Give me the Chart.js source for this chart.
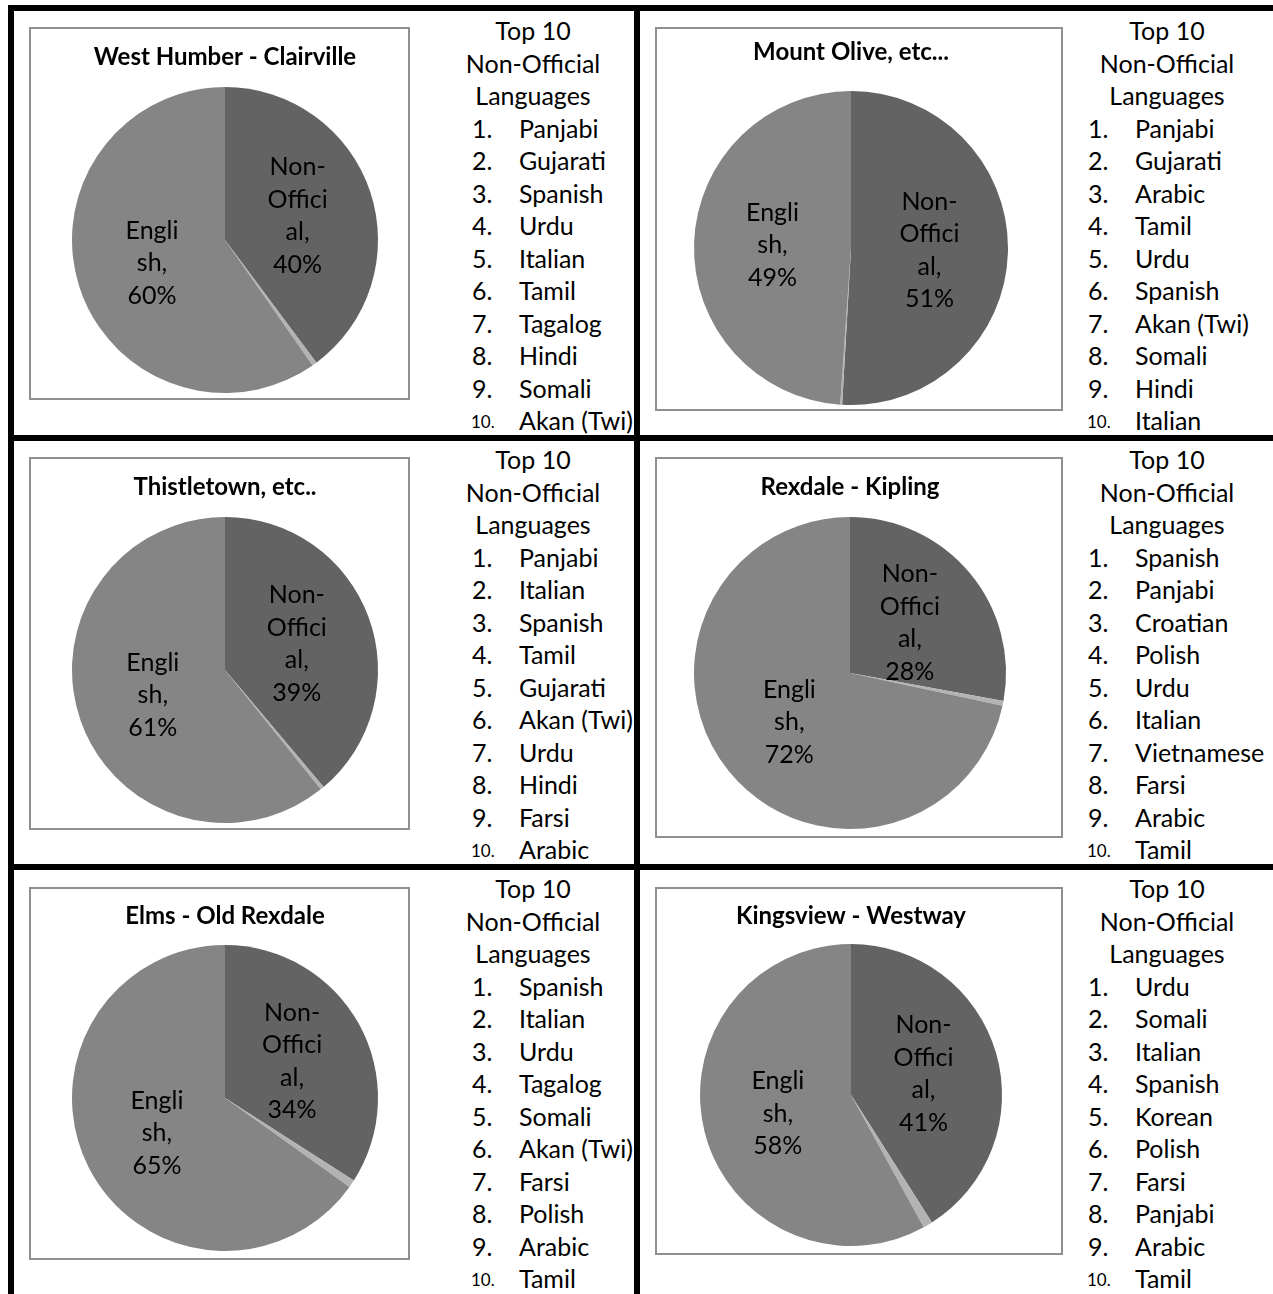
<!DOCTYPE html>
<html>
<head>
<title>Top 10 Non-Official Languages</title>
<style>
  body { margin: 0; background: #fff; font-family: Lato, 'Liberation Sans', sans-serif; }
  #page { position: relative; width: 1273px; height: 1294px; overflow: hidden; }
  .rule { position: absolute; background: #000; }
  .box { position: absolute; border: 2px solid #8f8f8f; background: #fff; }
  .box canvas { display: block; }
  .txt { position: absolute; white-space: nowrap; font-size: 25px; line-height: 30px; color: #000; }
  .small { font-size: 17px; }
</style>
</head>
<body>
<div id="page">
  <div class="rule" style="left:8px;top:5px;width:6px;height:1289px"></div>
  <div class="rule" style="left:8px;top:5px;width:1265px;height:6px"></div>
  <div class="rule" style="left:634px;top:5px;width:6px;height:1289px"></div>
  <div class="rule" style="left:8px;top:435px;width:1265px;height:6px"></div>
  <div class="rule" style="left:8px;top:864px;width:1265px;height:6px"></div>
</div>

<script src="https://cdn.jsdelivr.net/npm/chart.js"></script>
<script type="text/javascript">
  const titles = ['West Humber - Clairville', 'Mount Olive, etc...', 'Thistletown, etc..',
                  'Rexdale - Kipling', 'Elms - Old Rexdale', 'Kingsview - Westway'];
  const categories = ['Non-Official', 'French', 'English'];
  const nonOfficial = [40, 51, 39, 28, 34, 41];
  const french = [0.5, 0.2, 0.4, 0.5, 0.8, 1.0];
  const english = [60, 49, 61, 72, 65, 58];
  // how Excel wrapped the category names inside the slices
  const labelLines = [['Non-', 'Offici', 'al,'], [], ['Engli', 'sh,']];
  const listHeader = ['Top 10', 'Non-Official', 'Languages'];
  const topLanguages = [
    ['Panjabi', 'Gujarati', 'Spanish', 'Urdu', 'Italian', 'Tamil', 'Tagalog', 'Hindi', 'Somali', 'Akan (Twi)'],
    ['Panjabi', 'Gujarati', 'Arabic', 'Tamil', 'Urdu', 'Spanish', 'Akan (Twi)', 'Somali', 'Hindi', 'Italian'],
    ['Panjabi', 'Italian', 'Spanish', 'Tamil', 'Gujarati', 'Akan (Twi)', 'Urdu', 'Hindi', 'Farsi', 'Arabic'],
    ['Spanish', 'Panjabi', 'Croatian', 'Polish', 'Urdu', 'Italian', 'Vietnamese', 'Farsi', 'Arabic', 'Tamil'],
    ['Spanish', 'Italian', 'Urdu', 'Tagalog', 'Somali', 'Akan (Twi)', 'Farsi', 'Polish', 'Arabic', 'Tamil'],
    ['Urdu', 'Somali', 'Italian', 'Spanish', 'Korean', 'Polish', 'Farsi', 'Panjabi', 'Arabic', 'Tamil']
  ];
  const sliceColors = ['#636363', '#b3b3b3', '#858585'];

  // page geometry: box [left, top, right, bottom], pie [cx, cy, r], list [centerX, numX, nameX, firstY]
  const panels = [
    { box: [29, 27, 410, 400],    pie: [225, 240, 153],  titleY: 57,  list: [533, 472, 519, 30] },
    { box: [655, 27, 1063, 411],  pie: [851, 248, 157],  titleY: 52,  list: [1167, 1088, 1135, 30] },
    { box: [29, 457, 410, 830],   pie: [225, 670, 153],  titleY: 487, list: [533, 472, 519, 459] },
    { box: [655, 457, 1063, 838], pie: [850, 673, 156],  titleY: 487, list: [1167, 1088, 1135, 459] },
    { box: [29, 887, 410, 1260],  pie: [225, 1098, 153], titleY: 916, list: [533, 472, 519, 888] },
    { box: [655, 887, 1063, 1255], pie: [851, 1095, 151], titleY: 916, list: [1167, 1088, 1135, 888] }
  ];

  Chart.defaults.font.family = 'Lato';
  const page = document.getElementById('page');

  const sliceLabels = {
    id: 'sliceLabels',
    afterDatasetsDraw(chart) {
      const ctx = chart.ctx;
      const values = chart.data.datasets[0].data;
      ctx.save();
      ctx.font = '25px Lato';
      ctx.fillStyle = '#000';
      ctx.textAlign = 'center';
      ctx.textBaseline = 'middle';
      chart.getDatasetMeta(0).data.forEach((arc, i) => {
        if (!labelLines[i].length) return;
        const lines = labelLines[i].concat(Math.round(values[i]) + '%');
        const p = arc.getCenterPoint();
        lines.forEach((t, k) => ctx.fillText(t, p.x, p.y + (k - (lines.length - 1) / 2) * 32.5));
      });
      ctx.restore();
    }
  };

  function addText(text, x, y, align, cls) {
    const el = document.createElement('div');
    el.className = 'txt' + (cls ? ' ' + cls : '');
    el.textContent = text;
    el.style.left = x + 'px';
    el.style.top = (y - 15) + 'px';
    if (align === 'center') el.style.transform = 'translateX(-50%)';
    page.appendChild(el);
  }

  panels.forEach((p, n) => {
    const [l, t, r, b] = p.box;
    const box = document.createElement('div');
    box.className = 'box';
    box.style.left = l + 'px';
    box.style.top = t + 'px';
    const w = r - l - 4, h = b - t - 4;
    const ox = l + 2, oy = t + 2;
    box.style.width = w + 'px';
    box.style.height = h + 'px';
    const canvas = document.createElement('canvas');
    canvas.width = w;
    canvas.height = h;
    box.appendChild(canvas);
    page.appendChild(box);

    const [cx, cy, rad] = p.pie;
    const titleLine = 28.8;
    const titleTop = p.titleY - oy - titleLine / 2;
    new Chart(canvas, {
      type: 'pie',
      data: {
        labels: categories,
        datasets: [{
          data: [nonOfficial[n], french[n], english[n]],
          backgroundColor: sliceColors,
          borderWidth: 0
        }]
      },
      options: {
        responsive: false,
        animation: false,
        layout: {
          padding: { left: cx - rad - ox, right: w - (cx + rad - ox), top: 0, bottom: h - (cy + rad - oy) }
        },
        plugins: {
          legend: { display: false },
          tooltip: { enabled: false },
          title: {
            display: true,
            text: titles[n],
            color: '#000',
            font: { size: 24, weight: 'bold', lineHeight: 1.2 },
            padding: { top: titleTop, bottom: (cy - rad - oy) - (titleTop + titleLine) }
          }
        }
      },
      plugins: [sliceLabels]
    });

    const [lx, numX, nameX, y0] = p.list;
    listHeader.forEach((s, k) => addText(s, lx, y0 + k * 32.5, 'center'));
    topLanguages[n].forEach((s, k) => {
      const y = y0 + (k + 3) * 32.5;
      addText((k + 1) + '.', k === 9 ? numX - 1 : numX, y + (k === 9 ? 2 : 0), 'left', k === 9 ? 'small' : '');
      addText(s, nameX, y, 'left');
    });
  });
</script>
</body>
</html>
